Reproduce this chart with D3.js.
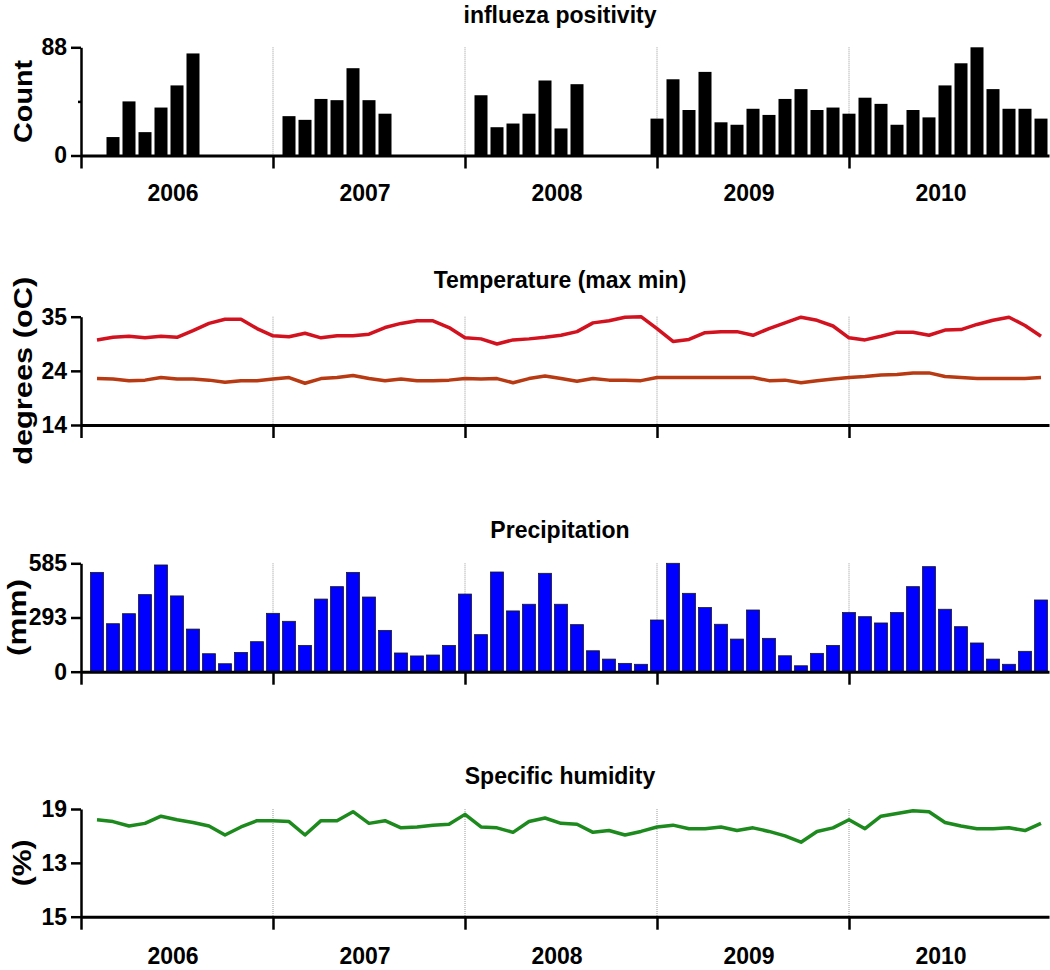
<!DOCTYPE html>
<html><head><meta charset="utf-8">
<script src="https://cdn.jsdelivr.net/npm/d3@7"></script>
<style>
body{margin:0;background:#fff}
text{font-family:"Liberation Sans",Arial,Helvetica,sans-serif;font-weight:bold;fill:#000}
</style>
</head><body>
<svg id="chart" width="1050" height="970"></svg>
<script>
// ---------------- DATA ----------------
const months = d3.range(1, 61);               // Jan 2006 .. Dec 2010 (month index)
const years = ["2006", "2007", "2008", "2009", "2010"];
const yearBoundaries = [0, 12, 24, 36, 48];

const fluCounts = [
  0, 15, 44, 19, 39, 57, 83, 0, 0, 0, 0, 0,
  32, 29, 46, 45, 71, 45, 34, 0, 0, 0, 0, 0,
  49, 23, 26, 34, 61, 22, 58, 0, 0, 0, 0, 30,
  62, 37, 68, 27, 25, 38, 33, 46, 54, 37, 39, 34,
  47, 42, 25, 37, 31, 57, 75, 88, 54, 38, 38, 30
];
const tempMax = [
  30.5, 31.0, 31.2, 30.9, 31.2, 31.0, 32.3, 33.7, 34.5, 34.5, 32.7, 31.3,
  31.1, 31.8, 30.9, 31.3, 31.3, 31.6, 32.9, 33.7, 34.2, 34.2, 32.9, 30.9,
  30.7, 29.7, 30.5, 30.7, 31.0, 31.4, 32.1, 33.8, 34.2, 34.9, 35.0, 32.7,
  30.2, 30.6, 31.9, 32.1, 32.1, 31.4, 32.7, 33.8, 34.9, 34.3, 33.2, 30.9,
  30.5, 31.2, 32.0, 32.0, 31.4, 32.4, 32.5, 33.5, 34.3, 34.9, 33.3, 31.2
];
const tempMin = [
  23.0, 22.9, 22.6, 22.7, 23.2, 22.9, 22.9, 22.7, 22.3, 22.6, 22.6, 22.9,
  23.2, 22.1, 23.0, 23.2, 23.6, 23.0, 22.6, 22.9, 22.6, 22.6, 22.7, 23.0,
  22.9, 23.0, 22.2, 23.0, 23.5, 23.0, 22.5, 23.0, 22.7, 22.7, 22.6, 23.2,
  23.2, 23.2, 23.2, 23.2, 23.2, 23.2, 22.6, 22.7, 22.2, 22.6, 22.9, 23.2,
  23.4, 23.7, 23.8, 24.1, 24.1, 23.4, 23.2, 23.0, 23.0, 23.0, 23.0, 23.2
];
const precipitation = [
  536, 259, 313, 416, 576, 409, 230, 97, 43, 104, 162, 315,
  272, 142, 392, 459, 536, 403, 223, 101, 85, 90, 142, 419,
  200, 538, 328, 364, 531, 364, 254, 113, 68, 45, 40, 279,
  585, 423, 346, 256, 176, 333, 180, 86, 32, 99, 142, 319,
  297, 263, 319, 459, 567, 337, 243, 155, 68, 40, 110, 387
];
const humidity = [
  17.8, 17.6, 17.1, 17.4, 18.2, 17.8, 17.5, 17.1, 16.1, 17.0, 17.7, 17.7,
  17.6, 16.1, 17.7, 17.7, 18.7, 17.4, 17.7, 16.9, 17.0, 17.2, 17.3, 18.4,
  17.0, 16.9, 16.4, 17.6, 18.0, 17.4, 17.3, 16.4, 16.6, 16.1, 16.5, 17.0,
  17.2, 16.8, 16.8, 17.0, 16.6, 16.9, 16.5, 16.0, 15.3, 16.5, 16.9, 17.8,
  16.8, 18.2, 18.5, 18.8, 18.7, 17.5, 17.1, 16.8, 16.8, 16.9, 16.6, 17.4
];

const fluTicks = [0, 44, 88],        fluTickLabels = ["0", "", "88"];
const tempTicks = [14, 24.5, 35],    tempTickLabels = ["14", "24", "35"];
const precipTicks = [0, 292.5, 585], precipTickLabels = ["0", "293", "585"];
const humTicks = [7, 13, 19],        humTickLabels = ["15", "13", "19"];

const titles = ["influeza positivity", "Temperature (max min)", "Precipitation", "Specific humidity"];
const yLabels = ["Count", "degrees (oC)", "(mm)", "(%)"];

// ---------------- LAYOUT ----------------
const svg = d3.select("#chart");
const x = d3.scaleLinear().domain([0, 60.5]).range([81, 1049]);
const barW = 13;

const panels = [
  {top: 47.3, bottom: 155.5, domain: [0, 88], ticks: fluTicks, labels: fluTickLabels,
   titleY: 23, labX: 32, labLen: 83, years: 200.5},
  {top: 316.7, bottom: 425, domain: [14, 35], ticks: tempTicks, labels: tempTickLabels,
   titleY: 288, labX: 32, labLen: 188},
  {top: 563.3, bottom: 671.7, domain: [0, 585], ticks: precipTicks, labels: precipTickLabels,
   titleY: 538, labX: 26, labLen: 77},
  {top: 809, bottom: 916.7, domain: [7, 19], ticks: humTicks, labels: humTickLabels,
   titleY: 784, labX: 31, labLen: 47, years: 964}
];

panels.forEach((p, pi) => {
  const y = d3.scaleLinear().domain(p.domain).range([p.bottom, p.top]);
  const g = svg.append("g");

  // title
  g.append("text").attr("x", 560).attr("y", p.titleY).attr("text-anchor", "middle")
    .style("font-size", "23px").text(titles[pi]);

  // y label
  g.append("text")
    .attr("transform", `translate(${p.labX},${(p.top + p.bottom) / 2}) rotate(-90)`)
    .attr("text-anchor", "middle")
    .attr("textLength", p.labLen).attr("lengthAdjust", "spacingAndGlyphs")
    .style("font-size", "25px").text(yLabels[pi]);

  // year gridlines
  g.selectAll("line.grid").data(yearBoundaries.slice(1)).enter().append("line")
    .attr("class", "grid")
    .attr("x1", d => x(d)).attr("x2", d => x(d))
    .attr("y1", p.top).attr("y2", p.bottom)
    .attr("stroke", "#9a9a9a").attr("stroke-width", 1).attr("stroke-dasharray", "1,1");

  // data
  if (pi === 0) {
    g.selectAll("rect").data(months.filter((m, i) => fluCounts[i] > 0)).enter().append("rect")
      .attr("x", m => x(m) - barW / 2).attr("width", barW)
      .attr("y", m => y(fluCounts[m - 1])).attr("height", m => p.bottom - y(fluCounts[m - 1]))
      .attr("fill", "#000");
  } else if (pi === 1) {
    const line = arr => d3.line().x(m => x(m)).y(m => y(arr[m - 1]))(months);
    g.append("path").attr("d", line(tempMin)).attr("fill", "none")
      .attr("stroke", "#b83a12").attr("stroke-width", 3.5).attr("stroke-linejoin", "round");
    g.append("path").attr("d", line(tempMax)).attr("fill", "none")
      .attr("stroke", "#d2121e").attr("stroke-width", 3.5).attr("stroke-linejoin", "round");
  } else if (pi === 2) {
    g.selectAll("rect").data(months).enter().append("rect")
      .attr("x", m => x(m) - barW / 2).attr("width", barW)
      .attr("y", m => y(precipitation[m - 1])).attr("height", m => p.bottom - y(precipitation[m - 1]))
      .attr("fill", "#0000ff").attr("stroke", "#1a1a1a").attr("stroke-width", 0.8);
  } else {
    g.append("path").attr("d", d3.line().x(m => x(m)).y(m => y(humidity[m - 1]))(months))
      .attr("fill", "none").attr("stroke", "#1d8a1d").attr("stroke-width", 3.5)
      .attr("stroke-linejoin", "round");
  }

  // y axis
  const ya = g.append("g").attr("transform", `translate(${x(0)},0)`)
    .call(d3.axisLeft(y).tickValues(p.ticks).tickFormat((d, i) => p.labels[i])
      .tickSize(10).tickSizeOuter(0).tickPadding(4));
  ya.select(".domain").attr("stroke", "#000").attr("stroke-width", 2.5);
  ya.selectAll(".tick line").attr("stroke", "#000").attr("stroke-width", 2.5);
  ya.selectAll(".tick text").style("font-size", "23px").attr("font-family", null);
  if (pi === 0) ya.selectAll(".tick").filter(d => d === 44).select("line").attr("x2", -3);

  // x axis
  const xa = g.append("g").attr("transform", `translate(0,${p.bottom})`)
    .call(d3.axisBottom(x).tickValues(yearBoundaries).tickFormat("")
      .tickSize(13).tickSizeOuter(0));
  xa.select(".domain").attr("stroke", "#000").attr("stroke-width", 3);
  xa.selectAll(".tick line").attr("stroke", "#000").attr("stroke-width", 2.5);

  // year labels
  if (p.years) {
    g.selectAll("text.year").data(years).enter().append("text")
      .attr("class", "year")
      .attr("x", (d, i) => x(5.75 + 12 * i)).attr("y", p.years)
      .attr("text-anchor", "middle").style("font-size", "23px").text(d => d);
  }
});
</script>
</body></html>
